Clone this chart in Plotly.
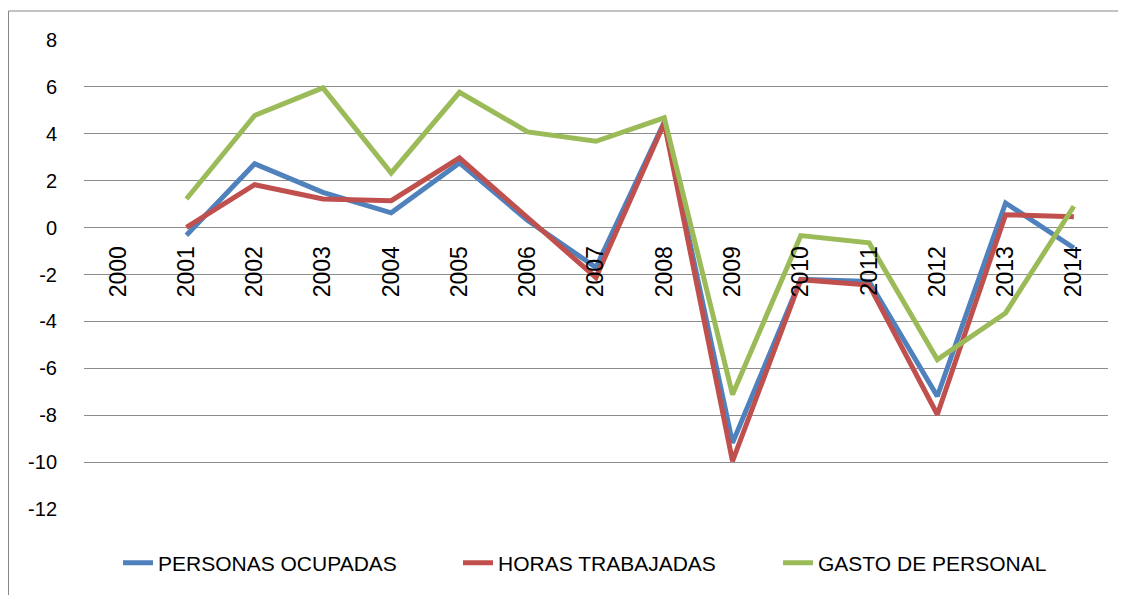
import plotly.graph_objects as go

years = [str(y) for y in range(2000, 2015)]
personas_ocupadas = [None, -0.33, 2.72, 1.50, 0.63, 2.76, 0.30, -1.70, 4.50, -9.18, -2.20, -2.30, -7.19, 1.05, -0.87]
horas_trabajadas = [None, 0.01, 1.83, 1.22, 1.15, 2.97, 0.41, -2.13, 4.46, -9.96, -2.22, -2.45, -7.97, 0.55, 0.46]
gasto_personal = [None, 1.22, 4.78, 5.96, 2.33, 5.77, 4.08, 3.68, 4.68, -7.12, -0.34, -0.65, -5.63, -3.64, 0.91]

y_ticks = list(range(-12, 9, 2))
y_tick_text = [str(v) for v in y_ticks]  # plain hyphen minus, as in the original

series = [
    ("PERSONAS OCUPADAS", personas_ocupadas, "#4F81BD", "legend"),
    ("HORAS TRABAJADAS", horas_trabajadas, "#C0504D", "legend2"),
    ("GASTO DE PERSONAL", gasto_personal, "#9BBB59", "legend3"),
]

font_family = "Liberation Sans, Arial, sans-serif"

# page body has an 8px margin; compensate so the plot lands where the original is
PLOT_W, PLOT_H = 1024, 469
ML, MR, MT, MB = 76, 18, 32, 86
PAGE_OFF = 8

def px_to_paper_x(page_x):
    return (page_x - PAGE_OFF - ML) / PLOT_W

def px_to_paper_y(page_y):
    return (MT + PLOT_H - (page_y - PAGE_OFF)) / PLOT_H

fig = go.Figure()
for name, vals, color, leg in series:
    fig.add_trace(go.Scatter(
        x=years, y=vals, name=name, mode="lines",
        line=dict(color=color, width=5),
        connectgaps=False, legend=leg,
    ))

legend_text_starts = [160, 500, 820]
legend_common = dict(orientation="h", yanchor="middle", y=px_to_paper_y(563),
                     xanchor="left", font=dict(size=21), bgcolor="rgba(0,0,0,0)")
legends = {}
for key, tx in zip(["legend", "legend2", "legend3"], legend_text_starts):
    legends[key] = dict(legend_common, x=px_to_paper_x(tx - 42))

fig.update_layout(
    width=ML + PLOT_W + MR, height=MT + PLOT_H + MB,
    margin=dict(l=ML, r=MR, t=MT, b=MB, autoexpand=False),
    paper_bgcolor="white", plot_bgcolor="white",
    font=dict(family=font_family, size=20, color="black"),
    showlegend=True,
    xaxis=dict(
        type="category", categoryorder="array", categoryarray=years,
        range=[-0.5, len(years) - 0.5],
        anchor="free", position=0.6, automargin=False,
        showgrid=False, zeroline=False, showline=False,
        ticks="", tickangle=-90, ticklabelstandoff=13,
        tickfont=dict(size=23),
    ),
    yaxis=dict(
        range=[-12, 8], tickvals=y_ticks, ticktext=y_tick_text, automargin=False,
        showgrid=True, gridcolor="#8c8c8c", gridwidth=1.3,
        zeroline=False, showline=False, ticks="",
        ticklabelstandoff=26, tickfont=dict(size=20),
    ),
    shapes=[dict(
        type="rect", xref="paper", yref="paper",
        x0=px_to_paper_x(8.5), x1=1.05, y0=-0.3, y1=px_to_paper_y(11),
        line=dict(color="#868686", width=1), fillcolor="rgba(0,0,0,0)", layer="below",
    )],
    **legends,
)

fig.write_html("out.html")
